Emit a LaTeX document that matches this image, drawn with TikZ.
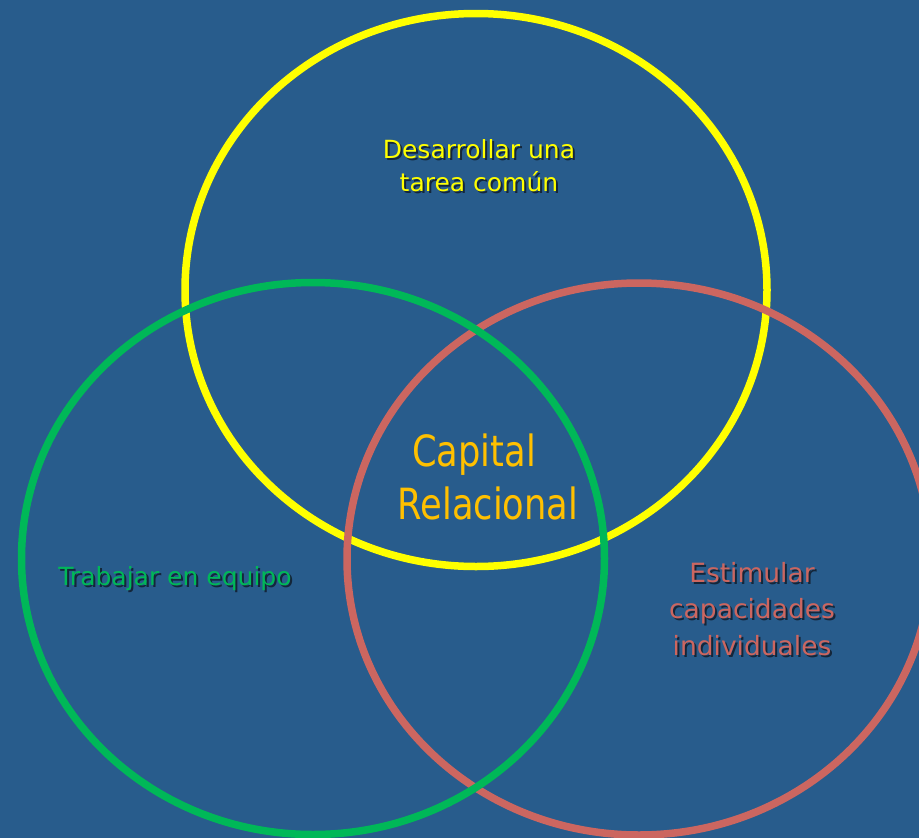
\documentclass[tikz,border=0pt]{standalone}
\usepackage{fontspec}
\setmainfont{DejaVu Sans}
\newfontfamily\condfont[FakeStretch=0.82]{DejaVu Sans}
\definecolor{bgblue}{HTML}{285C8C}
\definecolor{cyellow}{HTML}{FFFF00}
\definecolor{cgreen}{HTML}{00B858}
\definecolor{cred}{HTML}{CC6660}
\definecolor{corange}{HTML}{FFC000}
\definecolor{shadowc}{HTML}{14263A}
\newcommand\shtxt[1]{\makebox[0pt][l]{\hspace{2pt}\raisebox{-2pt}{\textcolor{shadowc}{#1}}}#1}
\tikzset{
  ring/.style={line width=7.5pt},
  smalltxt/.style={font=\fontsize{25}{33}\selectfont, align=center, inner sep=0pt},
  redtxt/.style={font=\fontsize{26.5}{36.5}\selectfont, align=center, inner sep=0pt},
  bigtxt/.style={font=\condfont\fontsize{43}{48}\selectfont, text=corange, inner sep=0pt},
}
\begin{document}
\begin{tikzpicture}[x=1pt,y=-1pt]
\fill[bgblue] (0,0) rectangle (919,838);
\useasboundingbox (0,0) rectangle (919,838);
% circles
\draw[ring, cyellow] (476,290) ellipse [x radius=291, y radius=276.5];
\draw[ring, cred] (639,559) ellipse [x radius=292, y radius=276];
\draw[ring, cgreen] (313,558.5) ellipse [x radius=291.5, y radius=276];
% texts with drop shadows
\node[smalltxt, text=cyellow] (tarea) at (479,167) {\shtxt{Desarrollar una}\\\shtxt{tarea común}};
\node[smalltxt, text=cgreen] (equipo) at (175,580) {\shtxt{Trabajar en equipo}};
\node[redtxt, text=cred] (estim) at (752,610) {\shtxt{Estimular}\\\shtxt{capacidades}\\\shtxt{individuales}};
\node[bigtxt] (capital) at (474,455) {Capital};
\node[bigtxt] (relacional) at (488,503) {Relacional};
\end{tikzpicture}
\end{document}
